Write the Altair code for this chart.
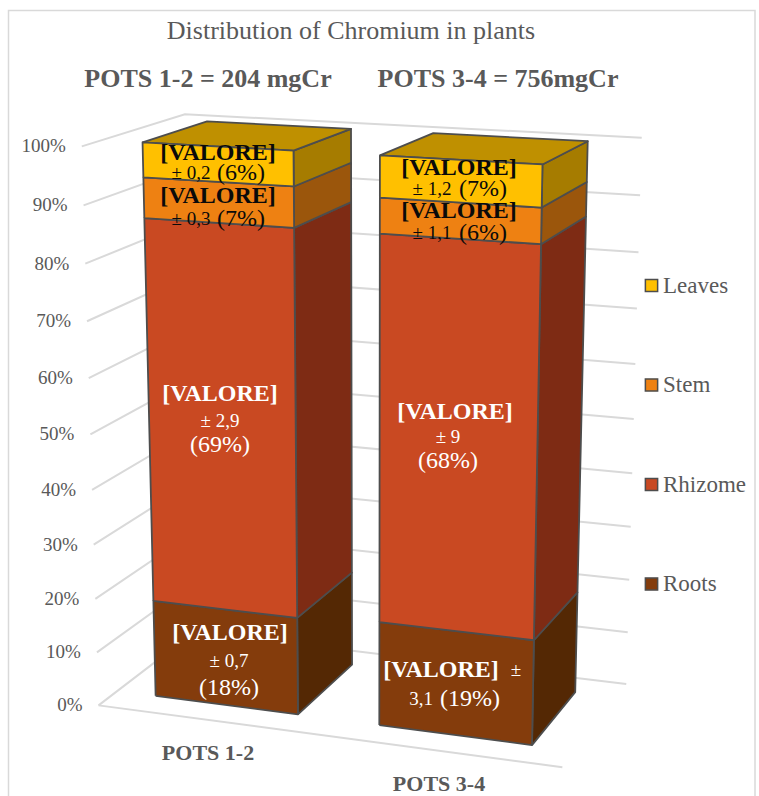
import altair as alt
import numpy as np
import pandas as pd

# Stacked shares (percent) of chromium per plant organ, bottom to top
POTS = ["POTS 1-2", "POTS 3-4"]
ORGANS = ["Roots", "Rhizome", "Stem", "Leaves"]
SHARE_POTS_12 = [18, 69, 7, 6]
SHARE_POTS_34 = [19, 68, 6, 7]
ERROR_POTS_12 = ["± 0,7", "± 2,9", "± 0,3", "± 0,2"]
ERROR_POTS_34 = ["3,1", "± 9", "± 1,1", "± 1,2"]
TICKS = [0, 10, 20, 30, 40, 50, 60, 70, 80, 90, 100]

TITLE = "Distribution of Chromium in plants"
SUBTITLES = ["POTS 1-2 = 204 mgCr", "POTS 3-4 = 756mgCr"]

FRONT_FILL = {"Roots": "#843C0C", "Rhizome": "#C94922", "Stem": "#EE8112", "Leaves": "#FFC000"}
SIDE_FILL = {"Roots": "#542804", "Rhizome": "#7E2B14", "Stem": "#9B560C", "Leaves": "#A67C00"}
TOP_FILL = "#BF9000"
EDGE = "#4D4D4D"
GRID = "#D9D9D9"
INK = "#595959"
FONT = "Liberation Serif"

# Footprints of the two columns inside the unit floor (x0, x1), and their shared depth
COLUMN_X = [(0.088, 0.409), (0.587, 0.911)]
COLUMN_Z = (0.185, 0.83)

# Camera calibration: corners of the unit box (x, share, depth) against page position
CAMERA_POINTS = [
    ((0, 0, 0), (98.3, 705.0)),
    ((0, 1, 0), (81.7, 146.7)),
    ((0, 0, 1), (195.0, 632.0)),
    ((0, 1, 1), (185.0, 114.0)),
    ((1, 0, 1), (626.0, 684.0)),
    ((1, 1, 1), (641.7, 137.7)),
    ((1, 0, 0), (562.7, 767.3)),
]


def fit_camera(points):
    rows, rhs = [], []
    for (X, Y, Z), (u, v) in points:
        rows.append([X, Y, Z, 1, 0, 0, 0, 0, -u * X, -u * Y, -u * Z])
        rows.append([0, 0, 0, 0, X, Y, Z, 1, -v * X, -v * Y, -v * Z])
        rhs += [u, v]
    p = np.linalg.lstsq(np.array(rows, float), np.array(rhs, float), rcond=None)[0]
    return np.append(p, 1.0).reshape(3, 4)


CAMERA = fit_camera(CAMERA_POINTS)


def project(x, share, z):
    u, v, w = CAMERA @ np.array([x, share / 100.0, z, 1.0])
    return float(u / w), float(v / w)


def polygon(rows, name, fill, corners):
    for i, c in enumerate(list(corners) + [corners[0]]):
        px, py = project(*c)
        rows.append({"face": name, "part": fill, "i": i, "px": px, "py": py})


# Column faces, painted back to front
face_rows = []
for pot, (x0, x1), shares in zip(POTS, COLUMN_X, [SHARE_POTS_12, SHARE_POTS_34]):
    z0, z1 = COLUMN_Z
    bottoms = np.concatenate([[0], np.cumsum(shares)[:-1]])
    tops = np.cumsum(shares)
    for organ, lo, hi in zip(ORGANS, bottoms, tops):
        polygon(face_rows, f"{pot} {organ} side", f"{organ} side",
                [(x1, lo, z0), (x1, lo, z1), (x1, hi, z1), (x1, hi, z0)])
    polygon(face_rows, f"{pot} top", "Top",
            [(x0, 100, z0), (x1, 100, z0), (x1, 100, z1), (x0, 100, z1)])
    for organ, lo, hi in zip(ORGANS, bottoms, tops):
        polygon(face_rows, f"{pot} {organ}", organ,
                [(x0, lo, z0), (x1, lo, z0), (x1, hi, z0), (x0, hi, z0)])
faces = pd.DataFrame(face_rows)

# Gridlines wrap the left wall and back wall; the 0% line also runs along the floor front
grid_rows = []
for t in TICKS:
    path = [(0, t, 0), (0, t, 1), (1, t, 1)]
    for i, c in enumerate(path):
        px, py = project(*c)
        grid_rows.append({"line": f"g{t}", "i": i, "px": px, "py": py})
for i, c in enumerate([(0, 0, 0), (1, 0, 0)]):
    px, py = project(*c)
    grid_rows.append({"line": "floor", "i": i, "px": px, "py": py})
grid = pd.DataFrame(grid_rows)

# Chart frame, open at the bottom edge of the page
frame = pd.DataFrame({"px": [8.5, 8.5, 755, 755], "py": [796, 10.5, 10.5, 796], "i": [0, 1, 2, 3]})

# Text placed by hand on the chart: (text, x, y, size, colour)
WHITE, BLACK = "#FFFFFF", "#0A0A0A"
VALUE_TAG = "[VALORE]"
bold_rows = [
    (VALUE_TAG, 218, 153, 24, BLACK), (VALUE_TAG, 218, 196, 24, BLACK),
    (VALUE_TAG, 220, 394, 24, WHITE), (VALUE_TAG, 230, 633, 24, WHITE),
    (VALUE_TAG, 459, 168, 24, BLACK), (VALUE_TAG, 459, 211, 24, BLACK),
    (VALUE_TAG, 455, 412, 24, WHITE), (VALUE_TAG, 441, 670, 24, WHITE),
    (POTS[0], 208, 753, 22, INK), (POTS[1], 439, 784, 22, INK),
    (SUBTITLES[0], 208, 79, 26, INK), (SUBTITLES[1], 498, 79, 26, INK),
]
regular_rows = [
    (TITLE, 351, 31, 26, INK),
    (ERROR_POTS_12[3], 191, 173, 19, BLACK), ("(6%)", 241, 173, 24, BLACK),
    (ERROR_POTS_12[2], 191, 219, 19, BLACK), ("(7%)", 241, 219, 24, BLACK),
    (ERROR_POTS_12[1], 220, 421, 19, WHITE), ("(69%)", 220, 445, 24, WHITE),
    (ERROR_POTS_12[0], 229, 661, 19, WHITE), ("(18%)", 229, 688, 24, WHITE),
    (ERROR_POTS_34[3], 432, 189, 19, BLACK), ("(7%)", 483, 189, 24, BLACK),
    (ERROR_POTS_34[2], 432, 233, 19, BLACK), ("(6%)", 483, 233, 24, BLACK),
    (ERROR_POTS_34[1], 448, 437, 19, WHITE), ("(68%)", 448, 461, 24, WHITE),
    ("±", 516, 670, 19, WHITE),
    (ERROR_POTS_34[0], 421, 699, 19, WHITE), ("(19%)", 470, 699, 24, WHITE),
]
COLUMNS = ["label", "px", "py", "size", "ink"]
bold_text = pd.DataFrame(bold_rows, columns=COLUMNS)
regular_text = pd.DataFrame(regular_rows, columns=COLUMNS)

# Percent labels sit just left of the left wall's front edge
tick_rows = []
for t in TICKS:
    px, py = project(0, t, 0)
    tick_rows.append({"label": f"{t}%", "px": px - 16, "py": py})
tick_labels = pd.DataFrame(tick_rows)

X = alt.X("px:Q", scale=alt.Scale(domain=[0, 759], nice=False, zero=False), axis=None)
Y = alt.Y("py:Q", scale=alt.Scale(domain=[796, 0], nice=False, zero=False), axis=None)

frame_layer = alt.Chart(frame).mark_line(color=GRID, strokeWidth=1.5).encode(X, Y, order="i:Q")
grid_layer = alt.Chart(grid).mark_line(color=GRID, strokeWidth=2).encode(X, Y, detail="line:N", order="i:Q")

# Every face part shares one colour scale; only the four organs appear in the legend
parts = ORGANS[::-1] + ["Top"] + [f"{o} side" for o in ORGANS]
part_colors = [FRONT_FILL[o] for o in ORGANS[::-1]] + [TOP_FILL] + [SIDE_FILL[o] for o in ORGANS]
face_layer = alt.Chart(faces).mark_line(fill="#000000", stroke=EDGE, strokeWidth=1.8, strokeJoin="round").encode(
    X, Y,
    detail="face:N",
    order="i:Q",
    fill=alt.Fill(
        "part:N",
        scale=alt.Scale(domain=parts, range=part_colors),
        legend=alt.Legend(
            values=ORGANS[::-1], title=None, orient="none", legendX=640, legendY=274,
            symbolType="square", symbolSize=150, symbolStrokeColor=EDGE, symbolStrokeWidth=1.5,
            labelFont=FONT, labelFontSize=23, labelColor=INK, rowPadding=75.5, labelOffset=0,
        ),
    ),
)


def text_layer(df, weight):
    return alt.Chart(df).mark_text(font=FONT, fontWeight=weight, baseline="middle", align="center").encode(
        X, Y,
        text="label:N",
        size=alt.Size("size:Q", scale=None),
        color=alt.Color("ink:N", scale=None),
    )


tick_layer = alt.Chart(tick_labels).mark_text(
    font=FONT, fontSize=19, color=INK, baseline="middle", align="right"
).encode(X, Y, text="label:N")

chart = alt.layer(
    frame_layer, grid_layer, face_layer, tick_layer,
    text_layer(regular_text, "normal"), text_layer(bold_text, "bold"),
).properties(
    width=759, height=796, padding=0, autosize=alt.AutoSizeParams(type="none"), background="#FFFFFF"
).configure_view(stroke=None)

chart.save("out.html", embed_options={"renderer": "svg", "actions": False})
